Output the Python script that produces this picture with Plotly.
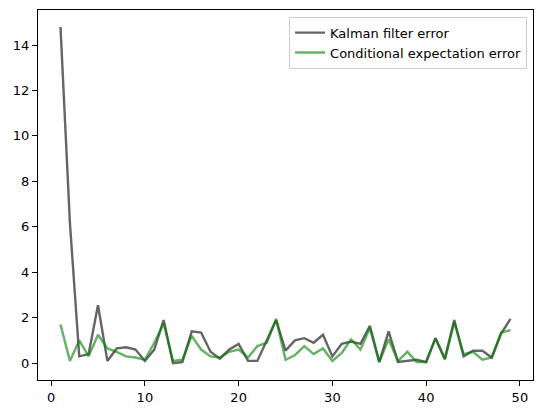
import plotly.graph_objects as go

steps = list(range(1, 50))
kalman_error = [14.8, 6.2, 0.3, 0.4, 2.55, 0.1, 0.65, 0.7, 0.6, 0.1,
                0.6, 1.9, 0.0, 0.05, 1.4, 1.35, 0.5, 0.2, 0.6, 0.85,
                0.1, 0.1, 1.0, 1.9, 0.55, 1.0, 1.1, 0.9, 1.25, 0.3,
                0.85, 0.95, 0.85, 1.65, 0.05, 1.4, 0.05, 0.1, 0.15, 0.05,
                1.1, 0.2, 1.9, 0.3, 0.55, 0.55, 0.25, 1.3, 1.95]
cond_error = [1.7, 0.1, 1.0, 0.3, 1.25, 0.65, 0.5, 0.3, 0.25, 0.15,
              0.9, 1.75, 0.1, 0.15, 1.2, 0.6, 0.3, 0.25, 0.5, 0.6,
              0.25, 0.75, 0.9, 1.95, 0.15, 0.35, 0.75, 0.4, 0.65, 0.1,
              0.45, 1.05, 0.6, 1.55, 0.05, 1.05, 0.1, 0.5, 0.05, 0.05,
              1.1, 0.15, 1.8, 0.4, 0.5, 0.15, 0.25, 1.35, 1.45]

fig = go.Figure()
fig.add_trace(go.Scatter(x=steps, y=kalman_error, mode="lines", name="Kalman filter error",
                         line=dict(color="black", width=2.4), opacity=0.6))
fig.add_trace(go.Scatter(x=steps, y=cond_error, mode="lines", name="Conditional expectation error",
                         line=dict(color="#008000", width=2.4), opacity=0.6))

axis_common = dict(showgrid=False, zeroline=False, showline=True, mirror=True,
                   linecolor="black", linewidth=1, ticks="outside", ticklen=5,
                   tickcolor="black", tickfont=dict(family="DejaVu Sans", size=13, color="black"))
fig.update_xaxes(range=[-1.4, 51.4], tickvals=[0, 10, 20, 30, 40, 50], **axis_common)
fig.update_yaxes(range=[-0.74, 15.54], tickvals=[0, 2, 4, 6, 8, 10, 12, 14], **axis_common)

fig.update_layout(
    width=535, height=405,
    margin=dict(l=30, r=10, t=2, b=33, autoexpand=False),
    plot_bgcolor="white", paper_bgcolor="white",
    font=dict(family="DejaVu Sans", size=13, color="black"),
    legend=dict(x=0.988, y=0.982, xanchor="right", yanchor="top",
                bgcolor="rgba(255,255,255,0.8)", bordercolor="#cccccc", borderwidth=1,
                itemwidth=30, tracegroupgap=0,
                font=dict(family="DejaVu Sans", size=13)),
    showlegend=True,
)

fig.write_html("out.html")
